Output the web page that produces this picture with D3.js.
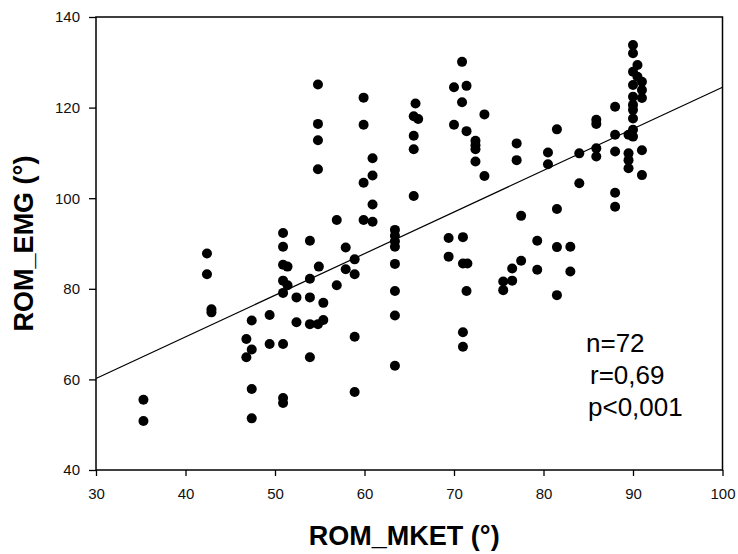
<!DOCTYPE html>
<html>
<head>
<meta charset="utf-8">
<script src="https://cdn.jsdelivr.net/npm/d3@7"></script>
<style>
  body { margin: 0; background: #fff; }
  svg { display: block; }
  .tick text { font-family: "Liberation Sans", Arial, sans-serif; font-size: 15px; fill: #111; }
  .tick line { stroke: #000; stroke-width: 1.3; }
  .title { font-family: "Liberation Sans", Arial, sans-serif; font-size: 27px; font-weight: bold; fill: #000; }
  .stat { font-family: "Liberation Sans", Arial, sans-serif; font-size: 26px; fill: #000; }
</style>
</head>
<body>
<svg width="738" height="554"></svg>
<script>
// ROM_MKET (x) and ROM_EMG (y)
const rom_mket = [
  35.3, 35.3, 42.4, 42.4, 42.9, 42.9, 46.8, 47.4, 46.8, 47.4,
  47.4, 47.4, 49.4, 49.4, 50.9, 50.9, 50.9, 51.4, 50.9, 51.4,
  50.9, 50.9, 50.9, 50.9, 52.4, 52.4, 53.9, 53.9, 53.9, 53.9,
  54.8, 55.4, 53.9, 54.9, 55.4, 56.9, 54.8, 54.8, 54.8, 54.8,
  56.9, 57.9, 57.9, 58.9, 58.9, 58.9, 58.9, 59.9, 59.9, 60.9,
  60.9, 59.9, 60.9, 59.9, 60.9, 63.4, 63.4, 63.4, 63.4, 63.4,
  63.4, 63.4, 63.4, 65.7, 65.5, 66.0, 65.5, 65.5, 65.5, 69.4,
  69.4, 70.0, 70.0, 70.9, 71.4, 70.9, 71.4, 71.0, 71.0, 71.5,
  71.4, 71.0, 71.0, 72.4, 72.4, 72.4, 72.4, 73.4, 73.4, 75.5,
  75.5, 76.5, 76.5, 77.5, 77.0, 77.0, 77.5, 79.3, 79.3, 80.5,
  80.5, 81.5, 81.5, 81.5, 81.5, 83.0, 83.0, 84.0, 84.0, 85.9,
  85.9, 85.9, 85.9, 88.0, 88.0, 88.0, 88.0, 88.0, 90.0, 90.0,
  90.5, 90.0, 90.5, 91.0, 90.0, 91.0, 90.0, 91.0, 90.0, 90.0,
  90.0, 90.0, 89.5, 90.0, 89.5, 89.5, 91.0, 89.5, 91.0
];
const rom_emg = [
  55.5, 50.8, 87.8, 83.2, 75.5, 74.8, 68.9, 66.6, 64.9, 73.0,
  57.9, 51.4, 74.2, 67.8, 92.3, 89.3, 85.3, 84.9, 81.8, 80.8,
  79.1, 67.8, 55.9, 54.8, 78.1, 72.6, 90.6, 82.2, 78.1, 72.2,
  72.2, 73.1, 64.9, 84.9, 76.9, 80.8, 125.1, 116.4, 112.8, 106.4,
  95.2, 89.1, 84.3, 86.5, 83.2, 69.4, 57.2, 122.2, 116.2, 108.8,
  105.0, 103.4, 98.6, 95.2, 94.8, 93.0, 91.7, 90.5, 89.3, 85.5,
  79.5, 74.1, 63.0, 120.9, 118.1, 117.5, 113.8, 110.8, 100.5, 91.2,
  87.1, 124.5, 116.2, 130.1, 124.8, 121.2, 114.8, 91.4, 85.6, 85.6,
  79.5, 70.4, 67.2, 112.7, 111.7, 110.8, 108.1, 118.5, 104.9, 81.6,
  79.7, 84.5, 81.8, 86.2, 112.1, 108.4, 96.1, 90.6, 84.2, 110.1,
  107.5, 115.2, 97.6, 89.2, 78.6, 89.3, 83.8, 109.9, 103.3, 117.3,
  116.4, 111.0, 109.2, 120.2, 114.0, 110.3, 101.2, 98.1, 133.8, 132.0,
  129.4, 127.9, 126.8, 125.7, 125.0, 123.9, 122.4, 122.1, 120.6, 119.5,
  117.6, 115.1, 114.0, 113.6, 109.9, 108.4, 110.6, 106.6, 105.1
];

// fitted line end points
const fitX = [30, 100];
const fitY = [60.2, 124.5];

const xTicks = [30, 40, 50, 60, 70, 80, 90, 100];
const yTicks = [40, 60, 80, 100, 120, 140];
const statLines = ["n=72", "r=0,69", "p<0,001"];

const width = 738, height = 554;
const margin = { top: 17, right: 15.5, bottom: 84, left: 96 };

const svg = d3.select("svg");

const x = d3.scaleLinear().domain([30, 100]).range([margin.left, width - margin.right]);
const y = d3.scaleLinear().domain([40, 140]).range([height - margin.bottom, margin.top]);

// axes
const xAxis = svg.append("g")
    .attr("transform", `translate(0,${height - margin.bottom})`)
    .call(d3.axisBottom(x).tickValues(xTicks).tickSize(6).tickPadding(12).tickFormat(d3.format("d")));
xAxis.select(".domain").remove();

const yAxis = svg.append("g")
    .attr("transform", `translate(${margin.left},0)`)
    .call(d3.axisLeft(y).tickValues(yTicks).tickSize(7).tickPadding(9).tickFormat(d3.format("d")));
yAxis.select(".domain").remove();

// frame
svg.append("rect")
    .attr("x", x(30))
    .attr("y", y(140))
    .attr("width", x(100) - x(30))
    .attr("height", y(40) - y(140))
    .attr("fill", "none")
    .attr("stroke", "#000")
    .attr("stroke-width", 1.5);

// regression line
svg.append("line")
    .attr("x1", x(fitX[0]))
    .attr("y1", y(fitY[0]))
    .attr("x2", x(fitX[1]))
    .attr("y2", y(fitY[1]))
    .attr("stroke", "#000")
    .attr("stroke-width", 1.2);

// points
svg.append("g")
    .selectAll("circle")
    .data(rom_mket.map((d, i) => [d, rom_emg[i]]))
    .enter().append("circle")
    .attr("cx", d => x(d[0]))
    .attr("cy", d => y(d[1]))
    .attr("r", 5)
    .attr("fill", "#000");

// stats text
svg.append("g")
    .selectAll("text")
    .data(statLines)
    .enter().append("text")
    .attr("class", "stat")
    .attr("x", (d, i) => [586, 590, 588][i])
    .attr("y", (d, i) => 352 + i * 32)
    .text(d => d);

// axis titles
svg.append("text")
    .attr("class", "title")
    .attr("x", (x(30) + x(100)) / 2 - 5)
    .attr("y", 545)
    .attr("text-anchor", "middle")
    .text("ROM_MKET (°)");

svg.append("text")
    .attr("class", "title")
    .attr("transform", `translate(33,${(y(40) + y(140)) / 2}) rotate(-90)`)
    .attr("text-anchor", "middle")
    .text("ROM_EMG (°)");
</script>
</body>
</html>
